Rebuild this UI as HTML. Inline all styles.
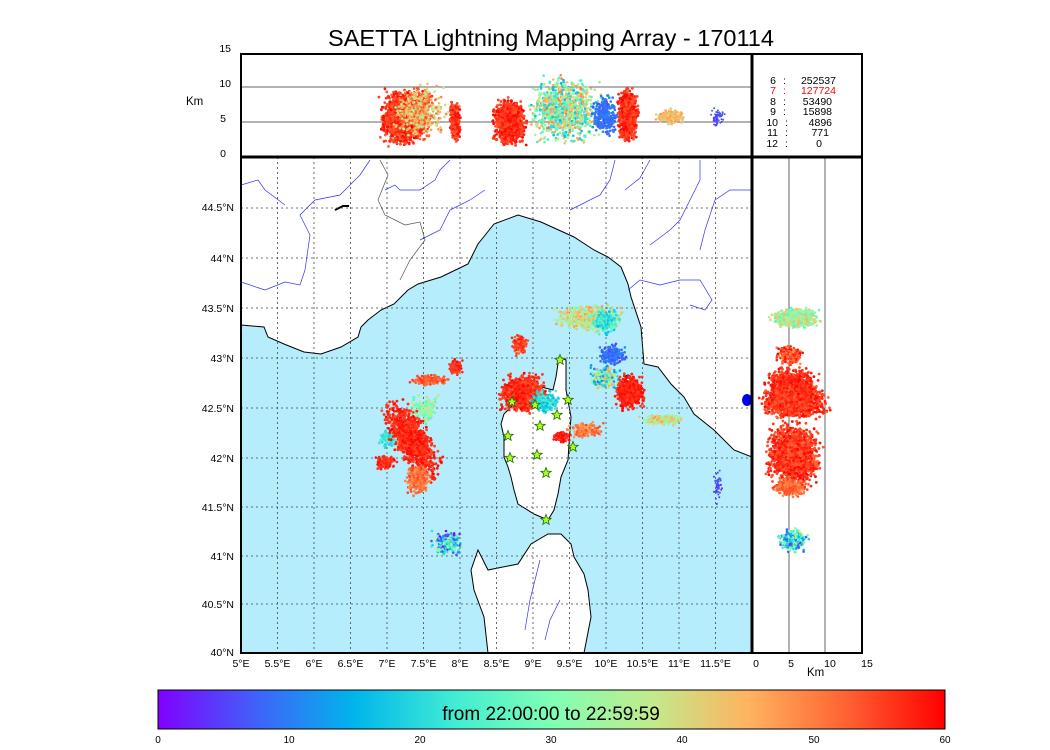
<!DOCTYPE html>
<html><head><meta charset="utf-8"><style>
html,body{margin:0;padding:0;background:#fff;}
svg{display:block;font-family:"Liberation Sans","DejaVu Sans",sans-serif;}
</style></head><body>
<svg id="s" width="1050" height="750" viewBox="0 0 1050 750" xmlns="http://www.w3.org/2000/svg">
<defs>
<linearGradient id="rb" x1="0" x2="1" y1="0" y2="0">
<stop offset="0" stop-color="#8000ff"/>
<stop offset="0.125" stop-color="#4062fa"/>
<stop offset="0.25" stop-color="#00b5eb"/>
<stop offset="0.375" stop-color="#40ecd4"/>
<stop offset="0.5" stop-color="#80ffb4"/>
<stop offset="0.625" stop-color="#c0eb8d"/>
<stop offset="0.75" stop-color="#ffb360"/>
<stop offset="0.875" stop-color="#ff6232"/>
<stop offset="1" stop-color="#ff0000"/>
</linearGradient>
<clipPath id="cm"><rect x="241" y="157" width="511" height="496"/></clipPath>
<clipPath id="ct"><rect x="241" y="54" width="511" height="103"/></clipPath>
<clipPath id="cr"><rect x="752" y="157" width="110" height="496"/></clipPath>
</defs>
<text x="551" y="46" font-size="23.5" text-anchor="middle">SAETTA Lightning Mapping Array - 170114</text>
<g clip-path="url(#cm)">
<rect x="241" y="157" width="511" height="496" fill="#fff"/>
<polygon fill="#b5edfc" stroke="#000" stroke-width="1" points="241,325 264,327 268,337 284,344 304,352 321,354 341,347 358,337 361,327 368,320 381,310 394,304 408,290 418,284 441,277 468,264 478,244 494,224 518,215 541,222 574,237 594,250 608,257 621,267 628,284 631,297 641,327 644,364 658,367 671,384 684,397 694,414 714,430 734,450 752,457 760,700 230,700 230,325"/>
<polygon fill="#fff" stroke="#000" stroke-width="1" points="559,357 566,360 566,390 571,417 569,444 568,460 561,477 558,494 554,510 548,520 534,514 518,504 514,490 511,477 508,467 504,457 504,437 501,424 504,414 514,404 528,397 541,387 553,390 556,377"/>
<polygon fill="#fff" stroke="#000" stroke-width="1" points="548,534 561,534 571,544 574,557 584,574 588,590 591,617 584,653 584,660 488,660 488,653 484,617 474,590 471,570 478,550 488,570 518,564 531,544"/>
<ellipse cx="628" cy="380" rx="3" ry="5" fill="#fff" stroke="#000"/>
<g fill="none" stroke="#3333ff" stroke-width="0.7">
<polyline points="241,185 258,180 265,190 285,205"/>
<polyline points="241,282 265,290 285,282 300,285 305,270 310,235 300,215 315,200 340,195 360,175 370,160"/>
<polyline points="385,190 395,185 400,190 420,190 435,180 440,170 450,160"/>
<polyline points="420,240 440,230 450,210 470,200 485,190"/>
<polyline points="570,210 600,195 610,180 615,160"/>
<polyline points="625,190 640,178 650,160"/>
<polyline points="650,245 670,230 680,220 690,200 700,180 700,160"/>
<polyline points="700,250 705,230 715,200 730,190 752,190"/>
<polyline points="628,290 640,280 660,285 680,280 700,280 712,300 705,310 690,305"/>
<polyline points="540,560 535,580 530,600 525,630"/>
<polyline points="560,600 550,620 545,640"/>
</g>
<g fill="none" stroke="#555" stroke-width="0.7">
<polyline points="380,160 388,175 378,200 385,215 405,225 420,222 425,240 410,260 400,280"/>
</g>
<path d="M335,210 l8,-4 l6,0" stroke="#000" stroke-width="2" fill="none"/>
<g stroke="#444" stroke-width="0.8" stroke-dasharray="2,3">
<line x1="277.5" y1="157" x2="277.5" y2="653"/><line x1="314" y1="157" x2="314" y2="653"/><line x1="350.5" y1="157" x2="350.5" y2="653"/><line x1="387" y1="157" x2="387" y2="653"/><line x1="423.5" y1="157" x2="423.5" y2="653"/><line x1="460" y1="157" x2="460" y2="653"/><line x1="496.5" y1="157" x2="496.5" y2="653"/><line x1="533" y1="157" x2="533" y2="653"/><line x1="569.5" y1="157" x2="569.5" y2="653"/><line x1="606" y1="157" x2="606" y2="653"/><line x1="642.5" y1="157" x2="642.5" y2="653"/><line x1="679" y1="157" x2="679" y2="653"/><line x1="715.5" y1="157" x2="715.5" y2="653"/>
<line x1="241" y1="208" x2="752" y2="208"/><line x1="241" y1="258" x2="752" y2="258"/><line x1="241" y1="308" x2="752" y2="308"/><line x1="241" y1="358" x2="752" y2="358"/><line x1="241" y1="408" x2="752" y2="408"/><line x1="241" y1="458" x2="752" y2="458"/><line x1="241" y1="507" x2="752" y2="507"/><line x1="241" y1="556" x2="752" y2="556"/><line x1="241" y1="604" x2="752" y2="604"/>
</g>
<g id="mapd"></g>
<g id="stars" fill="#aaff22" stroke="#226600" stroke-width="0.8"></g>
</g>
<rect x="241" y="157" width="511" height="496" fill="none" stroke="#000" stroke-width="2"/>
<rect x="241" y="54" width="511" height="103" fill="#fff"/>
<line x1="241" y1="87" x2="752" y2="87" stroke="#666"/>
<line x1="241" y1="122" x2="752" y2="122" stroke="#666"/>
<g id="topd" clip-path="url(#ct)"></g>
<rect x="241" y="54" width="511" height="103" fill="none" stroke="#000" stroke-width="2"/>
<line x1="789" y1="157" x2="789" y2="653" stroke="#666"/>
<line x1="825" y1="157" x2="825" y2="653" stroke="#666"/>
<g id="rd" clip-path="url(#cr)"></g>
<ellipse cx="747" cy="400" rx="5" ry="6" fill="#0000ee"/>
<rect x="752" y="157" width="110" height="496" fill="none" stroke="#000" stroke-width="2"/>
<rect x="752" y="54" width="110" height="103" fill="none" stroke="#000" stroke-width="2"/>
<line x1="752" y1="54" x2="752" y2="653" stroke="#000" stroke-width="3"/>
<line x1="241" y1="157" x2="862" y2="157" stroke="#000" stroke-width="3"/>
<g font-size="10.5">
<g text-anchor="end"><text x="776" y="84">6</text><text x="776" y="94" fill="#f00">7</text><text x="776" y="105">8</text><text x="776" y="115">9</text><text x="778" y="126">10</text><text x="778" y="136">11</text><text x="778" y="147">12</text></g>
<text x="783" y="84">:</text><text x="783" y="94" fill="#f00">:</text><text x="783" y="105">:</text><text x="783" y="115">:</text><text x="785" y="126">:</text><text x="785" y="136">:</text><text x="785" y="147">:</text>
<g text-anchor="end"><text x="836" y="84">252537</text><text x="836" y="94" fill="#f00">127724</text><text x="832" y="105">53490</text><text x="832" y="115">15898</text><text x="832" y="126">4896</text><text x="829" y="136">771</text><text x="822" y="147">0</text></g>
</g>
<g font-size="10.5" text-anchor="end">
<text x="231" y="52">15</text><text x="231" y="87">10</text><text x="226" y="122">5</text><text x="226" y="157">0</text>
<text x="234" y="211">44.5°N</text><text x="234" y="262">44°N</text><text x="234" y="312">43.5°N</text><text x="234" y="362">43°N</text><text x="234" y="412">42.5°N</text><text x="234" y="462">42°N</text><text x="234" y="511">41.5°N</text><text x="234" y="560">41°N</text><text x="234" y="608">40.5°N</text><text x="234" y="656">40°N</text>
</g>
<text x="186" y="105" font-size="11.5">Km</text>
<g font-size="10.5" text-anchor="middle">
<text x="241" y="667">5°E</text><text x="277.5" y="667">5.5°E</text><text x="314" y="667">6°E</text><text x="350.5" y="667">6.5°E</text><text x="387" y="667">7°E</text><text x="423.5" y="667">7.5°E</text><text x="460" y="667">8°E</text><text x="496.5" y="667">8.5°E</text><text x="533" y="667">9°E</text><text x="569.5" y="667">9.5°E</text><text x="606" y="667">10°E</text><text x="642.5" y="667">10.5°E</text><text x="679" y="667">11°E</text><text x="715.5" y="667">11.5°E</text>
<text x="756" y="667">0</text><text x="791" y="667">5</text><text x="830" y="667">10</text><text x="867" y="667">15</text>
</g>
<text x="807" y="676" font-size="11.5">Km</text>
<rect x="158" y="690" width="787" height="39" fill="url(#rb)" stroke="#000"/>
<text x="551" y="720" font-size="19" text-anchor="middle">from 22:00:00 to 22:59:59</text>
<g font-size="10" text-anchor="middle">
<text x="158" y="743">0</text><text x="289" y="743">10</text><text x="420" y="743">20</text><text x="551" y="743">30</text><text x="682" y="743">40</text><text x="814" y="743">50</text><text x="945" y="743">60</text>
</g>
</svg>
<script>
var seed=7;function r(){seed=(seed*16807)%2147483647;return (seed-1)/2147483646;}
function g(){return (r()+r()+r()-1.5)/0.75;}
var stops=[[128,0,255],[64,98,250],[0,181,235],[64,236,212],[128,255,180],[192,235,141],[255,179,96],[255,98,50],[255,0,0]];
function col(t){t=Math.max(0,Math.min(1,t))*8;var i=Math.min(7,Math.floor(t)),f=t-i;var a=stops[i],b=stops[i+1];
return 'rgb('+Math.round(a[0]+(b[0]-a[0])*f)+','+Math.round(a[1]+(b[1]-a[1])*f)+','+Math.round(a[2]+(b[2]-a[2])*f)+')';}
function pts(id,cx,cy,sx,sy,n,t0,t1,rad,ang){var el=document.getElementById(id);var s='';
ang=ang||0;var ca=Math.cos(ang),sa=Math.sin(ang);
for(var i=0;i<n;i++){var a=g()*sx,b=g()*sy;var x=cx+a*ca-b*sa,y=cy+a*sa+b*ca;var t=t0+(t1-t0)*r();
s+='<circle cx="'+x.toFixed(1)+'" cy="'+y.toFixed(1)+'" r="'+(rad||1.3)+'" fill="'+col(t/60)+'"/>';}
el.insertAdjacentHTML('beforeend',s);}
pts('mapd',447,543,9,7,180,0,35);
pts('mapd',588,318,20,8,500,30,48);
pts('mapd',605,322,9,8,200,15,28);
pts('mapd',520,345,5,6,150,52,58);
pts('mapd',456,367,4,5,120,54,60);
pts('mapd',430,380,11,3,180,50,56);
pts('mapd',388,438,6,6,100,18,25);
pts('mapd',425,410,8,10,150,25,40);
pts('mapd',412,440,11,26,1100,54,60,1.4,-0.5);
pts('mapd',418,480,7,9,250,48,55);
pts('mapd',386,462,6,5,120,54,60);
pts('mapd',523,394,14,11,1000,53,60,1.4);
pts('mapd',545,402,8,7,200,15,25);
pts('mapd',612,355,8,6,200,5,12);
pts('mapd',605,378,9,7,250,8,48);
pts('mapd',630,392,9,10,700,55,60,1.4);
pts('mapd',586,430,10,5,150,46,55);
pts('mapd',562,437,5,3,120,55,60);
pts('mapd',662,420,12,3,200,30,48);
pts('mapd',718,487,3,10,50,3,8,1);
pts('topd',405,118,14,16,2000,52,60,1.4);
pts('topd',420,112,16,16,500,35,55);
pts('topd',455,122,3,12,300,52,60,1.4);
pts('topd',510,122,10,14,1100,53,60,1.4);
pts('topd',565,110,22,20,1100,15,50);
pts('topd',605,115,8,12,300,6,12);
pts('topd',628,115,6,16,800,53,60,1.4);
pts('topd',670,117,9,5,150,40,48);
pts('topd',718,117,4,6,60,3,8,1);
pts('rd',795,318,14,6,800,25,45);
pts('rd',790,355,9,6,200,48,60);
pts('rd',792,385,15,10,700,53,60,1.4);
pts('rd',795,402,20,10,1100,52,60,1.4);
pts('rd',793,455,16,20,1500,52,60,1.4);
pts('rd',790,488,10,5,250,48,55);
pts('rd',793,540,9,7,250,5,35);
var st=[[512,402],[535,405],[560,360],[568,400],[508,436],[540,426],[557,415],[510,458],[537,455],[546,473],[573,447],[546,520]];
var h='';
st.forEach(function(p){var q='';for(var k=0;k<10;k++){var R=k%2?2.3:5.5;var a=-Math.PI/2+k*Math.PI/5;q+=(p[0]+R*Math.cos(a)).toFixed(1)+','+(p[1]+R*Math.sin(a)).toFixed(1)+' ';}h+='<polygon points="'+q+'"/>';});
document.getElementById('stars').innerHTML=h;
</script>
</body></html>
